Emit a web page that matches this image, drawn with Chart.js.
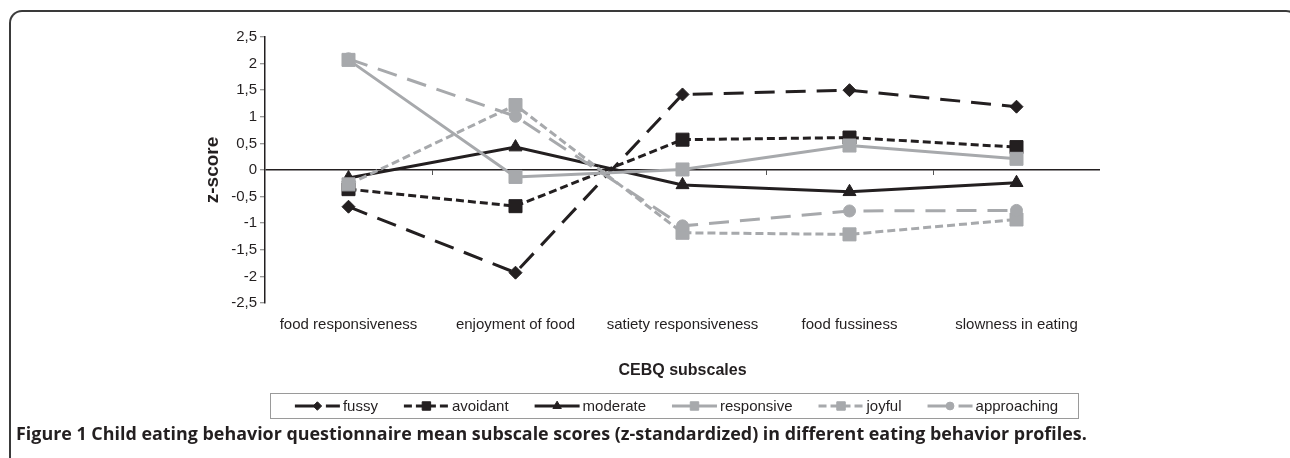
<!DOCTYPE html>
<html>
<head>
<meta charset="utf-8">
<script src="https://cdn.jsdelivr.net/npm/chart.js@4/dist/chart.umd.min.js"></script>
<style>
  html, body { margin: 0; padding: 0; background: #ffffff; }
  #wrap { position: relative; width: 1290px; height: 458px; overflow: hidden; background: #fff; }
  #frame { position: absolute; left: 9px; top: 10px; width: 1290px; height: 480px;
           border-left: 2px solid #3a3a3a; border-top: 2px solid #3a3a3a; border-right: 2px solid #3a3a3a;
           border-top-left-radius: 13px; border-top-right-radius: 13px; box-sizing: border-box; }
  #chart { position: absolute; left: 0; top: 0; }
  #caption { position: absolute; left: 16px; top: 421px; font-family: "Open Sans", sans-serif; font-weight: 700;
             font-size: 17.9px; line-height: 1.362; color: #231f20; white-space: nowrap; }
</style>
</head>
<body>
<div id="wrap">
  <div id="frame"></div>
  <canvas id="chart" width="1290" height="458"></canvas>
  <div id="caption">Figure 1 Child eating behavior questionnaire mean subscale scores (z-standardized) in different eating behavior profiles.</div>
</div>
<script>
// ---- data ----
const categories = ['food responsiveness', 'enjoyment of food', 'satiety responsiveness', 'food fussiness', 'slowness in eating'];
const fussy       = [-0.69, -1.93,  1.42,  1.50,  1.19];
const avoidant    = [-0.36, -0.68,  0.57,  0.61,  0.43];
const moderate    = [-0.15,  0.43, -0.28, -0.41, -0.24];
const responsive  = [ 2.07, -0.13,  0.01,  0.46,  0.21];
const joyful      = [-0.27,  1.22, -1.18, -1.21, -0.93];
const approaching = [ 2.09,  1.01, -1.05, -0.77, -0.76];
const yTickMin = -2.5, yTickMax = 2.5, yTickStep = 0.5;
const xTitle = 'CEBQ subscales';
const yTitle = 'z-score';

const BLACK = '#231f20';
const GREY = '#a7a9ac';
const FONT = '"Liberation Sans", Arial, sans-serif';

function ds(label, data, color, dash, style, radius, order) {
  return {
    label, data, borderColor: color, backgroundColor: color,
    borderWidth: 3, borderDash: dash, tension: 0,
    pointStyle: style, pointRadius: radius, pointHoverRadius: radius,
    pointBackgroundColor: color, pointBorderColor: color, pointBorderWidth: 1,
    order
  };
}

const datasets = [
  ds('fussy', fussy, BLACK, [20, 11], 'rectRot', 6.5, 6),
  ds('avoidant', avoidant, BLACK, [8, 4], 'rect', 9.2, 5),
  ds('moderate', moderate, BLACK, [], 'triangle', 7.5, 4),
  ds('responsive', responsive, GREY, [], 'rect', 9.2, 3),
  ds('joyful', joyful, GREY, [8, 4], 'rect', 9.2, 2),
  ds('approaching', approaching, GREY, [20, 11], 'circle', 6, 1)
];

const catTicks = {
  id: 'catTicks',
  beforeDatasetsDraw(chart) {
    const xs = chart.scales.x, ys = chart.scales.y, ctx = chart.ctx;
    const y0 = ys.getPixelForValue(0);
    ctx.save();
    ctx.strokeStyle = '#555';
    ctx.lineWidth = 1;
    for (let i = 1; i < categories.length; i++) {
      const px = Math.round((xs.getPixelForValue(i - 1) + xs.getPixelForValue(i)) / 2) + 0.5;
      ctx.beginPath(); ctx.moveTo(px, y0); ctx.lineTo(px, y0 + 5); ctx.stroke();
    }
    ctx.restore();
  }
};

const boxLegend = {
  id: 'boxLegend',
  afterDraw(chart) {
    const ctx = chart.ctx;
    const box = { l: 270.5, t: 393.5, r: 1078.5, b: 418.5 };
    ctx.save();
    ctx.strokeStyle = '#9a9a9a';
    ctx.lineWidth = 1;
    ctx.strokeRect(box.l, box.t, box.r - box.l, box.b - box.t);
    ctx.font = '15px ' + FONT;
    const sample = 45, gap = 3, spacing = 26;
    const sets = chart.data.datasets;
    let total = 0;
    sets.forEach((d, i) => { total += sample + gap + ctx.measureText(d.label).width + (i < sets.length - 1 ? spacing : 0); });
    let x = (box.l + box.r) / 2 - total / 2 + 2;
    const cy = (box.t + box.b) / 2;
    sets.forEach((d) => {
      ctx.save();
      ctx.strokeStyle = d.borderColor;
      ctx.lineWidth = 3;
      ctx.setLineDash(d.borderDash);
      ctx.beginPath(); ctx.moveTo(x, cy); ctx.lineTo(x + sample, cy); ctx.stroke();
      ctx.setLineDash([]);
      ctx.fillStyle = d.pointBackgroundColor;
      ctx.strokeStyle = d.pointBorderColor;
      ctx.lineWidth = 1;
      Chart.helpers.drawPoint(ctx, { pointStyle: d.pointStyle, radius: d.pointRadius * 0.65, rotation: 0, borderWidth: 1 }, x + sample / 2, cy);
      ctx.restore();
      x += sample + gap;
      ctx.fillStyle = BLACK;
      ctx.textBaseline = 'middle';
      ctx.textAlign = 'left';
      ctx.fillText(d.label, x, cy + 0.5);
      x += ctx.measureText(d.label).width + spacing;
    });
    ctx.restore();
  }
};

new Chart(document.getElementById('chart'), {
  type: 'line',
  data: { labels: categories, datasets },
  options: {
    responsive: false,
    animation: false,
    devicePixelRatio: 1,
    layout: { padding: { left: 199, top: 37, right: 190, bottom: 0 } },
    plugins: { legend: { display: false }, tooltip: { enabled: false } },
    scales: {
      x: {
        type: 'category',
        offset: true,
        grid: { display: false, drawTicks: false },
        border: { display: false },
        ticks: { color: BLACK, font: { family: FONT, size: 15 }, padding: 13, autoSkip: false, maxRotation: 0, minRotation: 0 },
        title: { display: true, text: xTitle, color: BLACK, font: { family: FONT, size: 16, weight: 'bold' }, padding: { top: 4, bottom: 78 } },
        afterFit(scale) { scale.height = 155; }
      },
      y: {
        min: yTickMin, max: yTickMax,
        grid: {
          color: (c) => (c.tick && c.tick.value === 0 ? BLACK : 'rgba(0,0,0,0)'),
          lineWidth: 1.5,
          drawTicks: true, tickLength: 5, tickColor: '#777', tickWidth: 1
        },
        border: { display: true, color: BLACK, width: 1.5 },
        ticks: {
          stepSize: yTickStep, color: BLACK, padding: 3, font: { family: FONT, size: 15 },
          callback: (v) => String(Math.round(v * 10) / 10).replace('.', ',')
        },
        title: { display: true, text: yTitle, color: BLACK, font: { family: FONT, size: 19, weight: 'bold' }, padding: { top: 2, bottom: 2 } },
        afterFit(scale) { scale.width = 66; }
      }
    }
  },
  plugins: [catTicks, boxLegend]
});
</script>
</body>
</html>
